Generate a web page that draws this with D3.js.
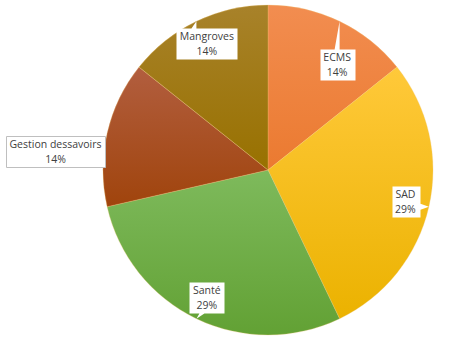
<!DOCTYPE html>
<html><head><meta charset="utf-8">
<script src="https://cdn.jsdelivr.net/npm/d3@7"></script>
<style>html,body{margin:0;padding:0;background:#fff;}svg{display:block;}</style>
</head><body>
<svg id="chart" width="456" height="356"></svg>
<script>
const categories = ["ECMS", "SAD", "Santé", "Gestion dessavoirs", "Mangroves"];
const values = [1, 2, 2, 1, 1];
const colorsTop = ["#F28D50", "#FFC93A", "#7EBA5C", "#B25E3F", "#A8822A"];
const colorsBottom = ["#EB7A30", "#EBB200", "#62A134", "#A0440C", "#987100"];

const svg = d3.select("#chart");
const W = 456, H = 356;
const cx = 268, cy = 170, R = 165;
const total = d3.sum(values);

const defs = svg.append("defs");
categories.forEach((c, i) => {
  const g = defs.append("linearGradient").attr("id", "grad" + i)
    .attr("x1", 0).attr("y1", 0).attr("x2", 0).attr("y2", 1);
  g.append("stop").attr("offset", "0%").attr("stop-color", colorsTop[i]);
  g.append("stop").attr("offset", "100%").attr("stop-color", colorsBottom[i]);
});

const pie = d3.pie().value(d => d).sort(null);
const arcs = pie(values);
const arc = d3.arc().innerRadius(0).outerRadius(R);

const g = svg.append("g").attr("transform", `translate(${cx},${cy})`);
g.selectAll("path.slice").data(arcs).enter().append("path")
  .attr("class", "slice")
  .attr("d", arc)
  .attr("fill", (d, i) => `url(#grad${i})`)
  .attr("stroke", "#f0c878").attr("stroke-width", 0.3);

// label layout (radius along mid-angle, with nudges for moved labels)
const labelRadius = 141;
const nudges = {0: [8, 21], 3: [-75, 12]};
const bordered = {3: true};
const noPointer = {3: true};
const fmt = v => Math.round(v / total * 100) + "%";

const lg = svg.append("g");
arcs.forEach((d, i) => {
  const mid = (d.startAngle + d.endAngle) / 2;
  const nd = nudges[i] || [0, 0];
  const lx = cx + labelRadius * Math.sin(mid) + nd[0];
  const ly = cy - labelRadius * Math.cos(mid) + nd[1];
  const tx = cx + R * Math.sin(mid);
  const ty = cy - R * Math.cos(mid);

  const grp = lg.append("g");
  const shape = grp.append("path");
  const text = grp.append("text")
    .attr("font-family", "'Open Sans', sans-serif")
    .attr("font-size", "10.5px")
    .attr("fill", "#404040")
    .attr("text-anchor", "middle");
  text.append("tspan").attr("x", lx).attr("y", ly - 3).text(categories[i]);
  text.append("tspan").attr("x", lx).attr("y", ly + 12).text(fmt(values[i]));
  const bb = text.node().getBBox();
  const x0 = Math.round(bb.x - 3.5) + 0.5, x1 = Math.round(bb.x + bb.width + 3.5) + 0.5;
  const y0 = Math.round(bb.y - 1) + 0.5, y1 = Math.round(bb.y + bb.height + 1) + 0.5;

  let p = `M${x0},${y0}`;
  const clamp = (v, a, b) => Math.max(a, Math.min(b, v));
  const far = !noPointer[i] && (tx < x0 - 5 || tx > x1 + 5 || ty < y0 - 5 || ty > y1 + 5);
  if (far && ty < y0) {
    const bx = clamp(tx - 5, x0 + 3, x1 - 10);
    p += `L${bx},${y0}L${tx},${ty}L${bx + 5},${y0}`;
  }
  p += `L${x1},${y0}`;
  if (far && tx > x1 && ty >= y0) {
    const by = clamp(ty - 3, y0 + 3, y1 - 8);
    p += `L${x1},${by}L${tx},${ty}L${x1},${by + 6}`;
  }
  p += `L${x1},${y1}`;
  if (far && ty > y1) {
    const bx = clamp(tx + 3, x0 + 8, x1 - 3);
    p += `L${bx + 5},${y1}L${tx},${ty}L${bx},${y1}`;
  }
  p += `L${x0},${y1}Z`;
  shape.attr("d", p).attr("fill", "#fff")
    .attr("stroke", bordered[i] ? "#bfbfbf" : "none").attr("stroke-width", 1);
});
</script>
</body></html>
